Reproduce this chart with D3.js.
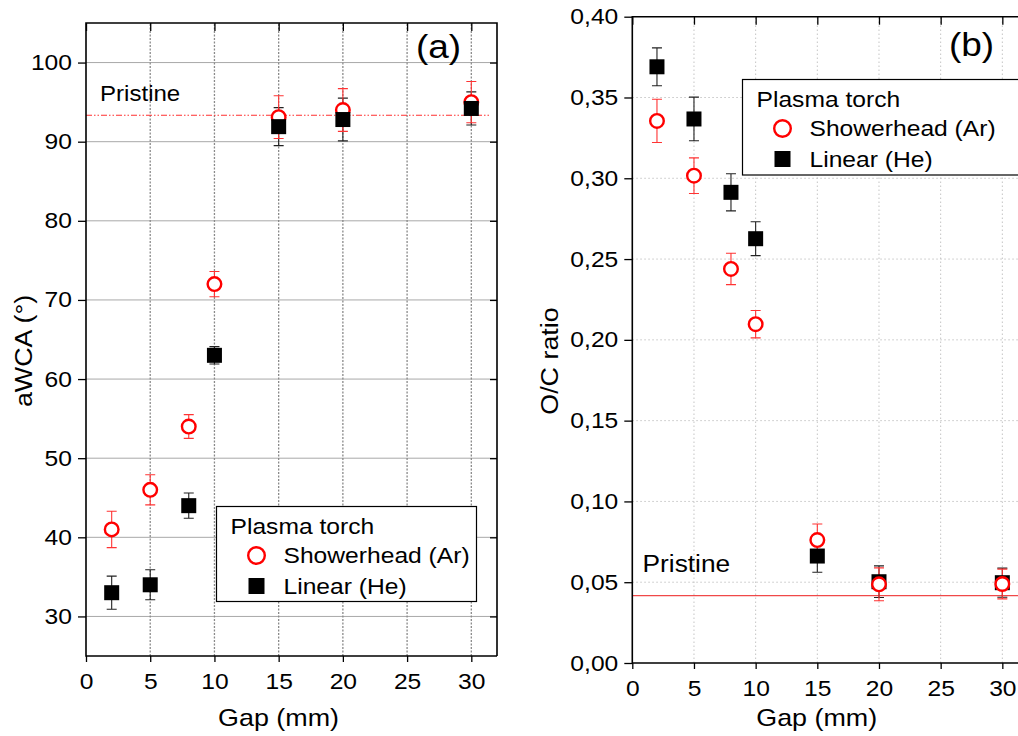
<!DOCTYPE html>
<html>
<head>
<meta charset="utf-8">
<script src="https://cdn.jsdelivr.net/npm/d3@7"></script>
<style>
  body { margin: 0; background: #fff; }
  text { font-family: "Liberation Sans", Arial, sans-serif; fill: #000; }
</style>
</head>
<body>
<svg id="chart" width="1018" height="736"></svg>
<script>
// data
var gap = [2, 5, 8, 10, 15, 20, 30];
var showerA = [41, 46, 54, 72, 93.1, 94, 95];
var showerAErr = [2.3, 1.9, 1.5, 1.6, 2.7, 2.7, 2.6];
var linearA = [33, 34, 44, 63, 91.9, 92.8, 94.2];
var linearAErr = [2.1, 1.9, 1.6, 1.1, 2.4, 2.7, 2.1];
var showerB = [0.3355, 0.3016, 0.2439, 0.2097, 0.0761, 0.0487, 0.0489];
var showerBErr = [0.0134, 0.011, 0.0097, 0.0085, 0.0099, 0.0102, 0.0092];
var linearB = [0.369, 0.3367, 0.2913, 0.2626, 0.0662, 0.0503, 0.0497];
var linearBErr = [0.0117, 0.0135, 0.0115, 0.0105, 0.01, 0.0098, 0.009];
var pristineA = 93.35;
var pristineB = 0.0417;
var xTicks = [0, 5, 10, 15, 20, 25, 30];
var yTicksA = [30, 40, 50, 60, 70, 80, 90, 100];
var yTicksB = [0, 0.05, 0.10, 0.15, 0.20, 0.25, 0.30, 0.35, 0.40];
var legendTitle = "Plasma torch";
var seriesNames = ["Showerhead (Ar)", "Linear (He)"];

var SX = 1.12; // text in the picture is a bit wider than Arial
var RED = "#ff0000";
var svg = d3.select("#chart");

function txt(g, x, y, s, size, rot) {
    var t = g.append("text")
        .attr("transform", "translate(" + x + "," + y + ")" + (rot ? " rotate(-90)" : "") + " scale(" + SX + ",1)")
        .style("font-size", size + "px")
        .text(s);
    return t;
}

function panel(opt) {
    var g = svg.append("g");
    var x = opt.x, y = opt.y;
    var x0 = x.range()[0], x1 = x.range()[1], y0 = y.range()[0], y1 = y.range()[1];

    // grid
    g.selectAll(".hg").data(opt.yTicks.filter(function (d) { return d > y.domain()[0] && d < y.domain()[1]; }))
        .enter().append("line")
        .attr("x1", x0).attr("x2", x1)
        .attr("y1", function (d) { return y(d); }).attr("y2", function (d) { return y(d); })
        .attr("stroke", opt.hGrid.color).attr("stroke-width", 1)
        .attr("stroke-dasharray", opt.hGrid.dash);
    g.selectAll(".vg").data(xTicks.filter(function (d) { return d > 0; }))
        .enter().append("line")
        .attr("y1", y0).attr("y2", y1)
        .attr("x1", function (d) { return x(d); }).attr("x2", function (d) { return x(d); })
        .attr("stroke", opt.vGrid.color).attr("stroke-width", opt.vGrid.width)
        .attr("stroke-dasharray", opt.vGrid.dash);

    // pristine reference line
    g.append("line")
        .attr("x1", x0).attr("x2", opt.pristineEnd)
        .attr("y1", y(opt.pristine)).attr("y2", y(opt.pristine))
        .attr("stroke", opt.pristineColor).attr("stroke-width", 1.1)
        .attr("stroke-dasharray", opt.pristineDash);
    txt(g, opt.pristineLabel[0], opt.pristineLabel[1], "Pristine", opt.pristineLabel[2]);

    // axes
    var bottom = g.append("g").attr("transform", "translate(0," + y0 + ")")
        .call(d3.axisBottom(x).tickValues(xTicks).tickSize(6).tickPadding(11).tickFormat(d3.format("d")));
    var left = g.append("g").attr("transform", "translate(" + x0 + ",0)")
        .call(d3.axisLeft(y).tickValues(opt.yTicks).tickSize(8).tickPadding(4.5).tickFormat(opt.yFormat));
    var top = g.append("g").attr("transform", "translate(0," + y1 + ")")
        .call(d3.axisBottom(x).tickValues(xTicks).tickSize(8).tickFormat(""));
    [bottom, left, top].forEach(function (a) {
        a.select(".domain").remove();
        a.selectAll("line").attr("stroke", "#000").attr("stroke-width", 1.3);
        a.selectAll("text").style("font-size", "22px").style("font-family", "Liberation Sans, Arial")
            .attr("transform", "scale(" + SX + ",1)");
    });
    if (opt.rightAxis) {
        var right = g.append("g").attr("transform", "translate(" + x1 + ",0)")
            .call(d3.axisLeft(y).tickValues(opt.yTicks).tickSize(7).tickFormat(""));
        right.select(".domain").remove();
        right.selectAll("line").attr("stroke", "#000").attr("stroke-width", 1.3);
    }

    // frame
    g.append("path")
        .attr("d", "M" + x1 + "," + y0 + "H" + x0 + "V" + y1 + "H" + x1 + (opt.rightAxis ? "V" + y0 : ""))
        .attr("fill", "none").attr("stroke", "#000").attr("stroke-width", 1.6);

    // series
    var shower = gap.map(function (d, i) { return { x: d, y: opt.shower[i], e: opt.showerErr[i] }; });
    var linear = gap.map(function (d, i) { return { x: d, y: opt.linear[i], e: opt.linearErr[i] }; });

    function errBars(data, color) {
        var eb = g.append("g").attr("stroke", color).attr("stroke-width", 1.1).attr("fill", "none");
        eb.selectAll("path").data(data).enter().append("path")
            .attr("d", function (d) {
                var cx = x(d.x), t = y(d.y + d.e), b = y(d.y - d.e);
                return "M" + (cx - 5) + "," + t + "H" + (cx + 5) + "M" + cx + "," + t + "V" + b +
                    "M" + (cx - 5) + "," + b + "H" + (cx + 5);
            });
    }
    function circles(data) {
        g.append("g").selectAll("circle").data(data).enter().append("circle")
            .attr("cx", function (d) { return x(d.x); }).attr("cy", function (d) { return y(d.y); })
            .attr("r", 6.8).attr("fill", "#fff").attr("stroke", RED).attr("stroke-width", 2.4);
    }
    function squares(data) {
        g.append("g").selectAll("rect").data(data).enter().append("rect")
            .attr("x", function (d) { return x(d.x) - 7.5; }).attr("y", function (d) { return y(d.y) - 7.5; })
            .attr("width", 15).attr("height", 15).attr("fill", "#000");
    }
    errBars(linear, "#222");
    errBars(shower, "#ff3333");
    if (opt.squaresOnTop) { circles(shower); squares(linear); }
    else { squares(linear); circles(shower); }

    // titles
    txt(g, opt.xTitle[0], opt.xTitle[1], "Gap (mm)", 24).attr("text-anchor", "middle");
    txt(g, opt.yTitle[0], opt.yTitle[1], opt.yLabel, 24, true).attr("text-anchor", "middle");
    txt(g, opt.tag[0], opt.tag[1], opt.tagText, 33);

    // legend
    var L = opt.legend;
    g.append("rect").attr("x", L.x).attr("y", L.y).attr("width", L.w).attr("height", L.h)
        .attr("fill", "#fff").attr("stroke", "#000").attr("stroke-width", 1.2);
    txt(g, L.x + 14, L.y + 27, legendTitle, 22);
    g.append("circle").attr("cx", L.x + 40).attr("cy", L.y + 49).attr("r", 8.3)
        .attr("fill", "#fff").attr("stroke", RED).attr("stroke-width", 2.4);
    txt(g, L.x + 67, L.y + 56, seriesNames[0], 22);
    g.append("rect").attr("x", L.x + 32).attr("y", L.y + 71.5).attr("width", 16).attr("height", 16).attr("fill", "#000");
    txt(g, L.x + 67, L.y + 87, seriesNames[1], 22);
}

panel({
    x: d3.scaleLinear().domain([0, 32]).range([86, 497]),
    y: d3.scaleLinear().domain([25, 105]).range([656, 23]),
    yTicks: yTicksA,
    yFormat: d3.format("d"),
    hGrid: { color: "#a8a8a8", dash: null },
    vGrid: { color: "#8a8a8a", width: 1.3, dash: "2,1.5" },
    pristine: pristineA, pristineEnd: 489, pristineColor: "#ff3030", pristineDash: "6,2,1.5,2,1.5,2",
    pristineLabel: [100, 101, 21.5],
    rightAxis: true,
    shower: showerA, showerErr: showerAErr, linear: linearA, linearErr: linearAErr,
    squaresOnTop: true,
    xTitle: [278.5, 726], yTitle: [32, 351], yLabel: "aWCA (°)",
    tag: [416, 58], tagText: "(a)",
    legend: { x: 216.5, y: 506.5, w: 260, h: 95 }
});

panel({
    x: d3.scaleLinear().domain([0, 32]).range([632.3, 1027]),
    y: d3.scaleLinear().domain([0, 0.4]).range([663, 16.7]),
    yTicks: yTicksB,
    yFormat: function (d) { return d3.format(".2f")(d).replace(".", ","); },
    hGrid: { color: "#c4c4c4", dash: "1.5,2.5" },
    vGrid: { color: "#c4c4c4", width: 1, dash: "1.5,2.5" },
    pristine: pristineB, pristineEnd: 1018, pristineColor: "#f04848", pristineDash: null,
    pristineLabel: [642.5, 572, 23.5],
    rightAxis: false,
    shower: showerB, showerErr: showerBErr, linear: linearB, linearErr: linearBErr,
    squaresOnTop: false,
    xTitle: [816.7, 726], yTitle: [558, 361], yLabel: "O/C ratio",
    tag: [949, 56], tagText: "(b)",
    legend: { x: 742.5, y: 79.5, w: 300, h: 95.5 }
});
</script>
</body>
</html>
